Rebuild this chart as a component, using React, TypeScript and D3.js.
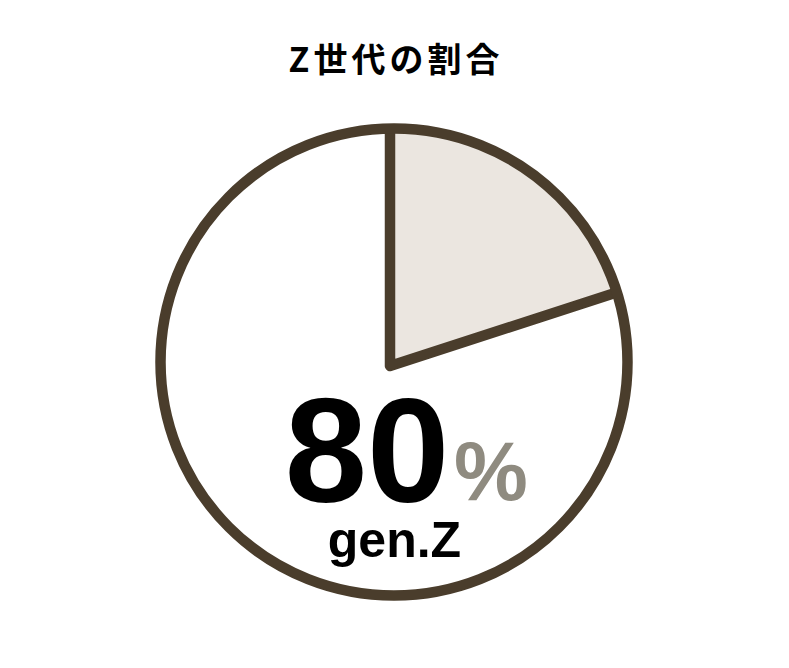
import * as d3 from "d3"

const categories = ["other", "gen.Z"]
const values = [20, 80]
const sliceColors = ["#ebe6e0", "#ffffff"]

const title = "Z世代の割合"
const bigValue = "80"
const bigUnit = "%"
const bigLabel = "gen.Z"

const stroke = "#4a3d2c"

export default function App() {
  const width = 789
  const height = 668
  const cx = 394
  const cy = 362
  const r = 233.5
  // the slices' apex sits a little off the ring centre in the original
  const ax = 390
  const ay = 366

  const pie = d3.pie<number>().sort(null).value((d) => d)
  const arcs = pie(values)
  const arc = d3.arc<d3.PieArcDatum<number>>().innerRadius(0).outerRadius(260)

  const pt = (a: number, len: number): [number, number] => [
    ax + len * Math.sin(a),
    ay - len * Math.cos(a),
  ]
  const bounds = arcs.map((a) => a.startAngle)
  const edge = d3.line()([pt(bounds[1], 260), [ax, ay], pt(bounds[0], 260)])

  return (
    <svg
      width={width}
      height={height}
      style={{ position: "absolute", left: 0, top: 0, background: "#fff" }}
    >
      <defs>
        <clipPath id="ring">
          <circle cx={cx} cy={cy} r={r} />
        </clipPath>
      </defs>
      <text
        x={cx + 2}
        y={72}
        textAnchor="middle"
        fontFamily="'Noto Sans CJK JP', 'Noto Sans', sans-serif"
        fontWeight={700}
        fontSize={34}
        letterSpacing={4}
        fill="#000"
      >
        {title}
      </text>
      <circle cx={cx} cy={cy} r={r} fill="#fff" />
      <g clipPath="url(#ring)">
        <g transform={`translate(${ax},${ay})`}>
          {arcs.map((a, i) => (
            <path key={categories[i]} d={arc(a) || ""} fill={sliceColors[i]} />
          ))}
        </g>
        <path
          d={edge || ""}
          fill="none"
          stroke={stroke}
          strokeWidth={10.5}
          strokeLinejoin="round"
        />
      </g>
      <circle cx={cx} cy={cy} r={r} fill="none" stroke={stroke} strokeWidth={10.5} />
      <text
        x={367}
        y={502}
        textAnchor="middle"
        fontFamily="'Liberation Sans', Arial, sans-serif"
        fontWeight={700}
        fontSize={148}
        fill="#000"
      >
        {bigValue}
      </text>
      <text
        x={454}
        y={500}
        fontFamily="'Liberation Sans', Arial, sans-serif"
        fontWeight={700}
        fontSize={83}
        fill="#8f8b80"
      >
        {bigUnit}
      </text>
      <text
        x={394.5}
        y={557}
        textAnchor="middle"
        fontFamily="'Liberation Sans', Arial, sans-serif"
        fontWeight={700}
        fontSize={50}
        fill="#000"
      >
        {bigLabel}
      </text>
    </svg>
  )
}
